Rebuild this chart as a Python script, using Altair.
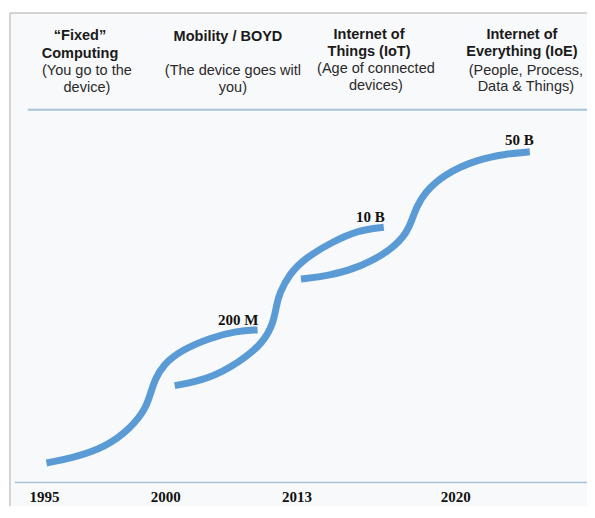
import altair as alt
import pandas as pd

# ---- data (page-pixel-like units: x to the right, y downward) ----
curve1_x = [47, 73, 107, 133, 148, 153, 157, 165, 183, 213, 240, 261]
curve1_y = [473, 468, 457, 437, 417, 400, 388, 373, 358, 345, 338, 337]

curve2_x = [177, 210, 243, 267, 277, 280, 283, 293, 310, 337, 363, 389]
curve2_y = [394, 388, 370, 350, 330, 313, 300, 280, 263, 247, 235, 232]

curve3_x = [305, 333, 367, 397, 413, 418, 422, 430, 450, 483, 513, 537]
curve3_y = [285, 282, 272, 255, 237, 223, 212, 197, 178, 163, 157, 155]

value_labels = ["200 M", "10 B", "50 B"]
value_label_x = [262, 390, 541]
value_label_y = [327, 222, 143]

year_labels = ["1995", "2000", "2013", "2020"]
year_x = [45, 168, 301, 462]
year_y = [508, 508, 508, 508]

bold_text = ["\u201cFixed\u201d", "Computing", "Mobility / BOYD", "Internet of", "Things (IoT)",
             "Internet of", "Everything (IoE)"]
bold_x = [81, 81, 231, 374, 374, 529, 529]
bold_y = [37, 55, 38, 36, 53, 36, 53]

normal_text = ["(You go to the", "device)", "(The device goes witl", "you)",
               "(Age of connected", "devices)", "(People, Process,", "Data & Things)"]
normal_x = [88, 88, 236, 236, 381, 381, 533, 533]
normal_y = [72, 90, 72, 90, 70, 88, 72, 89]

W, H = 579, 498
XMAX = 595  # reference's horizontal extent, fitted into the plot width
YMAX = 517  # reference's vertical extent, fitted into the plot height

# ---- tables ----
rows = []
for cid, (xs_, ys_) in enumerate([(curve1_x, curve1_y), (curve2_x, curve2_y), (curve3_x, curve3_y)]):
    for i, (a, b) in enumerate(zip(xs_, ys_)):
        rows.append({"curve": cid, "order": i, "x": a, "y": b})
curves = pd.DataFrame(rows)

vlab = pd.DataFrame({"x": value_label_x, "y": value_label_y, "t": value_labels})
years = pd.DataFrame({"x": year_x, "y": year_y, "t": year_labels})
bold = pd.DataFrame({"x": bold_x, "y": bold_y, "t": bold_text})
normal = pd.DataFrame({"x": normal_x, "y": normal_y, "t": normal_text})
box = pd.DataFrame({"x": [10], "x2": [XMAX], "y": [13], "y2": [YMAX]})
border_h = pd.DataFrame({"x": [10], "x2": [XMAX], "y": [13]})
border_v = pd.DataFrame({"x": [10], "y": [13], "y2": [YMAX]})
rules = pd.DataFrame({"x": [28, 15], "x2": [XMAX, XMAX], "y": [112, 493],
                      "c": ["top", "bottom"]})

xs = alt.Scale(domain=[8, XMAX], nice=False, zero=False)
ys = alt.Scale(domain=[8, YMAX], nice=False, zero=False, reverse=True)
X = lambda f="x": alt.X(f"{f}:Q", scale=xs, axis=None)
Y = lambda f="y": alt.Y(f"{f}:Q", scale=ys, axis=None)

frame = alt.Chart(box).mark_rect(fill="#f8f9fb").encode(x=X(), x2="x2:Q", y=Y(), y2="y2:Q")
bh = alt.Chart(border_h).mark_rule(color="#c6c6c6", strokeWidth=1.5).encode(x=X(), x2="x2:Q", y=Y())
bv = alt.Chart(border_v).mark_rule(color="#c6c6c6", strokeWidth=1.5).encode(x=X(), y=Y(), y2="y2:Q")

rule_layer = alt.Chart(rules).mark_rule().encode(
    x=X(), x2="x2:Q", y=Y(),
    color=alt.Color("c:N", scale=alt.Scale(domain=["top", "bottom"], range=["#a9c3d6", "#a7c1d9"]), legend=None),
    strokeWidth=alt.StrokeWidth("c:N", scale=alt.Scale(domain=["top", "bottom"], range=[2, 1.5]), legend=None),
)

lines = alt.Chart(curves).mark_line(interpolate="basis", color="#5b9bd5", strokeWidth=7,
                                    strokeCap="butt").encode(
    x=X(), y=Y(), detail="curve:N", order="order:Q")

vtext = alt.Chart(vlab).mark_text(font="Liberation Serif", fontWeight="bold", fontSize=15,
                                  align="right", baseline="middle", color="#111111").encode(
    x=X(), y=Y(), text="t:N")

ytext = alt.Chart(years).mark_text(font="Liberation Serif", fontWeight="bold", fontSize=15,
                                   align="center", baseline="middle", color="#111111").encode(
    x=X(), y=Y(), text="t:N")

btext = alt.Chart(bold).mark_text(font="Liberation Sans", fontWeight="bold", fontSize=14.5,
                                  align="center", baseline="middle", color="#1a1a1a").encode(
    x=X(), y=Y(), text="t:N")

ntext = alt.Chart(normal).mark_text(font="Liberation Sans", fontSize=14.5,
                                    align="center", baseline="middle", color="#2a2a2a").encode(
    x=X(), y=Y(), text="t:N")

chart = alt.layer(frame, bh, bv, rule_layer, lines, vtext, ytext, btext, ntext).properties(
    width=W, height=H, padding=0, autosize=alt.AutoSizeParams(type="none"),
    background="white",
).resolve_scale(color="independent").configure_view(stroke=None)

chart.save("out.html", embed_options={"renderer": "svg", "actions": False})
